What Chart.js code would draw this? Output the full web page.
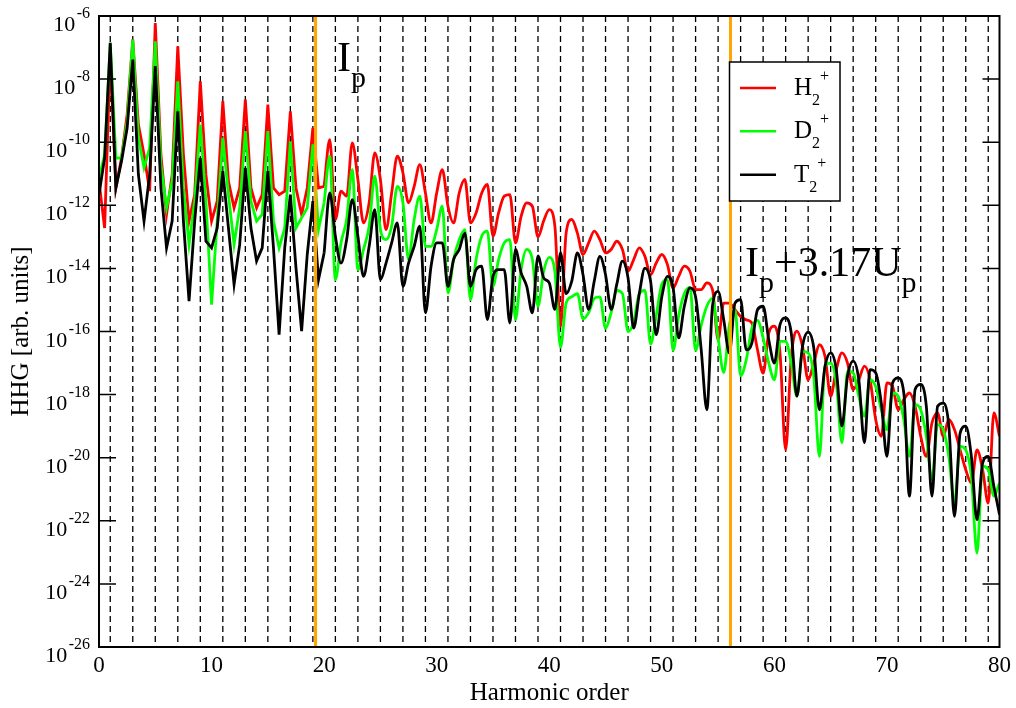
<!DOCTYPE html>
<html>
<head>
<meta charset="utf-8">
<script src="https://cdn.jsdelivr.net/npm/chart.js@4/dist/chart.umd.min.js"></script>
<style>
html,body{margin:0;padding:0;background:#fff;}
#wrap{width:1016px;height:708px;position:relative;}
</style>
</head>
<body>
<div id="wrap"><canvas id="c" width="1016" height="708"></canvas></div>
<script>
// ---------- DATA ----------
const harmonicOrder = [
  0,0.5,1,1.5,2,2.5,3,3.5,4,4.5,
  5,5.5,6,6.5,7,7.5,8,8.5,9,9.5,
  10,10.5,11,11.5,12,12.5,13,13.5,14,14.5,
  15,15.5,16,16.5,17,17.5,18,18.5,19,19.5,
  20,20.5,21,21.5,22,22.5,23,23.5,24,24.5,
  25,25.5,26,26.5,27,27.5,28,28.5,29,29.5,
  30,30.5,31,31.5,32,32.5,33,33.5,34,34.5,
  35,35.5,36,36.5,37,37.5,38,38.5,39,39.5,
  40,40.5,41,41.5,42,42.5,43,43.5,44,44.5,
  45,45.5,46,46.5,47,47.5,48,48.5,49,49.5,
  50,50.5,51,51.5,52,52.5,53,53.5,54,54.5,
  55,55.5,56,56.5,57,57.5,58,58.5,59,59.5,
  60,60.5,61,61.5,62,62.5,63,63.5,64,64.5,
  65,65.5,66,66.5,67,67.5,68,68.5,69,69.5,
  70,70.5,71,71.5,72,72.5,73,73.5,74,74.5,
  75,75.5,76,76.5,77,77.5,78,78.5,79,79.5,
  80
];

// log10 of HHG intensity, H2+
const logH2 = [
  -11.24,-12.72,-7.2,-11.45,-10.5,-9.12,-6.75,-9.44,-10.39,-11.55,
  -6.22,-10.39,-12.29,-11.03,-6.96,-10.39,-12.50,-11.66,-8.07,-11.03,
  -12.50,-11.87,-8.70,-11.24,-12.08,-11.45,-8.65,-11.45,-12.08,-11.66,
  -8.81,-11.45,-11.66,-11.55,-9.02,-11.45,-12.29,-11.45,-9.55,-11.45,
  -11.40,-9.92,-12.45,-11.55,-11.71,-10.02,-11.18,-12.56,-11.92,-10.34,
  -11.18,-12.77,-11.61,-10.44,-10.97,-11.92,-11.40,-10.71,-11.61,-12.56,
  -11.61,-10.87,-12.03,-12.56,-11.61,-11.18,-12.56,-12.24,-11.61,-11.34,
  -12.98,-12.24,-11.71,-11.66,-13.19,-12.35,-11.92,-12.03,-13.0,-12.5,
  -12.14,-12.66,-15.84,-12.88,-12.45,-12.88,-13.56,-13.19,-12.82,-13.09,
  -13.51,-13.40,-13.14,-13.40,-14.09,-13.72,-13.35,-13.62,-14.20,-13.83,
  -13.56,-13.88,-14.62,-14.25,-13.93,-14.09,-14.67,-14.67,-14.46,-14.67,
  -16.26,-15.10,-15.10,-15.31,-15.52,-15.63,-15.73,-16.58,-17.32,-16.05,
  -15.83,-16.68,-19.75,-16.79,-15.99,-16.47,-17.53,-17.00,-16.42,-16.79,
  -18.05,-17.21,-16.68,-17.00,-17.84,-17.53,-17.10,-17.53,-18.79,-19.32,
  -17.63,-17.74,-18.48,-18.16,-17.95,-18.37,-19.32,-19.96,-18.90,-18.58,
  -19.32,-18.79,-19.11,-19.75,-20.38,-20.80,-19.75,-20.38,-21.44,-18.58,
  -19.32
];

// log10 of HHG intensity, D2+
const logD2 = [
  -11.13,-10.39,-6.85,-10.50,-10.50,-9.34,-6.75,-9.86,-10.81,-10.18,
  -6.80,-10.71,-12.08,-11.24,-8.07,-11.45,-13.24,-11.87,-9.44,-11.87,
  -15.15,-12.50,-9.86,-11.66,-13.24,-12.08,-9.65,-11.87,-12.50,-12.29,
  -9.65,-12.50,-13.35,-12.72,-9.97,-12.72,-12.40,-12.08,-10.07,-12.77,
  -11.92,-10.44,-14.36,-13.19,-12.45,-10.87,-14.04,-13.40,-12.66,-11.08,
  -12.77,-13.09,-12.66,-11.40,-11.92,-13.72,-12.45,-11.71,-13.30,-13.30,
  -12.77,-12.03,-14.78,-13.72,-13.09,-12.77,-14.99,-13.72,-12.98,-12.82,
  -14.57,-13.72,-13.19,-13.09,-15.62,-14.04,-13.40,-13.72,-15.20,-14.1,
  -13.65,-14.1,-16.5,-15.1,-14.9,-14.8,-15.6,-15.4,-14.95,-14.9,
  -15.9,-15.4,-14.7,-14.8,-16.0,-15.7,-14.8,-14.7,-16.4,-15.5,
  -14.5,-14.35,-16.6,-15.5,-14.8,-14.6,-16.6,-15.8,-15.2,-14.95,
  -16.2,-17.3,-15.8,-15.3,-17.4,-16.9,-15.9,-15.65,-16.2,-17.0,
  -17.53,-16.31,-16.31,-17.00,-18.05,-16.63,-16.68,-17.42,-19.96,-17.10,
  -17.00,-17.63,-19.53,-17.26,-17.31,-18.05,-18.69,-17.53,-17.74,-18.48,
  -19.11,-17.95,-18.05,-18.79,-19.96,-18.32,-18.48,-19.32,-20.70,-18.95,
  -19.11,-19.96,-21.44,-19.64,-19.75,-20.59,-23.02,-20.27,-20.38,-21.22,
  -20.80
];

// log10 of HHG intensity, T2+
const logT2 = [
  -11.66,-10.50,-6.85,-11.45,-10.60,-9.55,-7.38,-11.03,-12.50,-11.03,
  -7.59,-11.45,-13.35,-12.50,-9.02,-12.50,-15.04,-12.50,-10.50,-13.14,
  -13.35,-12.72,-10.92,-12.72,-14.51,-13.24,-10.81,-12.72,-13.77,-13.35,
  -10.92,-13.35,-16.10,-13.35,-11.66,-13.98,-15.99,-13.56,-11.87,-14.36,
  -13.51,-11.61,-12.98,-13.83,-13.09,-11.82,-12.98,-14.25,-13.30,-12.14,
  -14.36,-13.83,-13.19,-12.56,-14.57,-13.83,-13.30,-12.66,-15.41,-13.93,
  -13.19,-13.19,-14.57,-13.72,-13.40,-12.88,-14.57,-14.04,-13.93,-15.62,
  -14.25,-14.04,-14.04,-15.73,-13.40,-14.14,-14.57,-15.41,-13.6,-14.30,
  -14.46,-15.30,-13.50,-14.80,-14.40,-13.51,-14.20,-15.30,-14.40,-13.62,
  -14.20,-15.30,-14.50,-13.77,-14.30,-15.89,-14.80,-13.99,-14.40,-16.10,
  -14.90,-14.25,-14.60,-16.20,-15.20,-14.62,-14.90,-16.58,-18.48,-15.20,
  -14.73,-15.63,-16.68,-15.10,-14.99,-16.58,-16.37,-15.31,-15.20,-16.26,
  -17.0,-15.78,-15.57,-16.05,-18.05,-16.47,-16.02,-16.52,-18.48,-17.10,
  -16.68,-17.21,-19.00,-17.42,-16.94,-17.53,-19.53,-17.21,-17.31,-18.27,
  -19.96,-17.63,-17.47,-17.95,-21.22,-17.84,-17.68,-18.37,-21.22,-18.37,
  -18.27,-19.00,-21.86,-19.22,-19.00,-19.96,-21.97,-20.17,-19.96,-20.91,
  -21.8
];

const seriesLabels = ['H₂⁺', 'D₂⁺', 'T₂⁺'];
const seriesBase = ['H', 'D', 'T'];
const yTickExponents = [-26, -24, -22, -20, -18, -16, -14, -12, -10, -8, -6];
const xTickValues = [0, 10, 20, 30, 40, 50, 60, 70, 80];
const oddHarmonics = [1,3,5,7,9,11,13,15,17,19,21,23,25,27,29,31,33,35,37,39,
                      41,43,45,47,49,51,53,55,57,59,61,63,65,67,69,71,73,75,77,79];
const cutoffLines = [19.24, 56.1];   // Ip and Ip+3.17Up in harmonic order
const smoothFrom = 20;               // harmonic order where the spectrum becomes arch-like

// ---------- STYLE / LAYOUT ----------
const FONT = "'Liberation Serif', 'Times New Roman', serif";
const COLORS = ['#ff0000', '#00ff00', '#000000'];
const ORANGE = '#ffa500';

const annotations = [
  {x: 21.14, logY: -7.73, parts: [{t: 'I', s: 42, dy: 0}, {t: 'p', s: 30, dy: 16}]},
  {x: 57.4, logY: -14.25, parts: [{t: 'I', s: 42, dy: 0}, {t: 'p', s: 30, dy: 16},
                                  {t: '+3.17U', s: 42, dy: 0}, {t: 'p', s: 30, dy: 16}]}
];

function drawRich(ctx, x, y, parts) {
  let cx = x;
  ctx.textAlign = 'left';
  ctx.textBaseline = 'alphabetic';
  parts.forEach(p => {
    ctx.font = p.s + 'px ' + FONT;
    ctx.fillText(p.t, cx, y + p.dy);
    cx += ctx.measureText(p.t).width;
  });
}

const decorations = {
  id: 'decorations',
  beforeDatasetsDraw(chart) {
    const {ctx, chartArea: a, scales: {x}} = chart;
    ctx.save();
    ctx.strokeStyle = '#000';
    ctx.lineWidth = 1.3;
    ctx.setLineDash([6, 4]);
    oddHarmonics.forEach(h => {
      const px = x.getPixelForValue(h);
      ctx.beginPath();
      ctx.moveTo(px, a.top);
      ctx.lineTo(px, a.bottom);
      ctx.stroke();
    });
    ctx.restore();
  },
  afterDatasetsDraw(chart) {
    const {ctx, chartArea: a, scales: {x, y}} = chart;
    ctx.save();
    ctx.strokeStyle = ORANGE;
    ctx.lineWidth = 3;
    cutoffLines.forEach(h => {
      const px = x.getPixelForValue(h);
      ctx.beginPath(); ctx.moveTo(px, a.top); ctx.lineTo(px, a.bottom); ctx.stroke();
    });
    ctx.strokeStyle = '#000';
    ctx.lineWidth = 2;
    ctx.strokeRect(a.left, a.top, a.right - a.left, a.bottom - a.top);
    ctx.lineWidth = 1.5;
    ctx.fillStyle = '#000';
    yTickExponents.forEach(e => {
      const py = y.getPixelForValue(Math.pow(10, e));
      ctx.beginPath();
      ctx.moveTo(a.left, py); ctx.lineTo(a.left + 17, py);
      ctx.moveTo(a.right - 17, py); ctx.lineTo(a.right, py);
      ctx.stroke();
      const sup = String(e);
      ctx.font = '16px ' + FONT;
      ctx.textAlign = 'left';
      ctx.textBaseline = 'alphabetic';
      const sw = ctx.measureText(sup).width;
      const supX = a.left - 9 - sw;
      ctx.fillText(sup, supX, py + 2);
      ctx.font = '22px ' + FONT;
      const bw = ctx.measureText('10').width;
      ctx.fillText('10', supX - 1.5 - bw, py + 15);
    });
    // legend
    const lg = {x: 729.5, y: 62, w: 110.5, h: 139};
    ctx.fillStyle = '#fff';
    ctx.fillRect(lg.x, lg.y, lg.w, lg.h);
    ctx.strokeStyle = '#000';
    ctx.lineWidth = 1.5;
    ctx.strokeRect(lg.x, lg.y, lg.w, lg.h);
    const rowY = [88, 131.3, 174.7];
    COLORS.forEach((col, i) => {
      ctx.strokeStyle = col;
      ctx.lineWidth = 2.5;
      ctx.beginPath(); ctx.moveTo(740, rowY[i]); ctx.lineTo(776, rowY[i]); ctx.stroke();
      ctx.fillStyle = '#000';
      drawRich(ctx, 794, rowY[i] + 7, [
        {t: seriesBase[i], s: 25, dy: 0}, {t: '2', s: 16, dy: 10}, {t: '+', s: 16, dy: -14}
      ]);
    });
    ctx.fillStyle = '#000';
    annotations.forEach(an => {
      drawRich(ctx, x.getPixelForValue(an.x), y.getPixelForValue(Math.pow(10, an.logY)), an.parts);
    });
    ctx.restore();
  }
};

// each spectrum: spiky low-order part drawn straight, arch-like plateau/cutoff part drawn smooth
function makeSets(i, logs, order) {
  const pts = harmonicOrder.map((h, k) => ({x: h, y: Math.pow(10, logs[k])}));
  const base = {
    label: seriesLabels[i], borderColor: COLORS[i], backgroundColor: COLORS[i],
    borderWidth: 2.8, pointRadius: 0, fill: false, order: order
  };
  return [
    Object.assign({}, base, {data: pts.filter(p => p.x <= smoothFrom), tension: 0}),
    Object.assign({}, base, {data: pts.filter(p => p.x >= smoothFrom), cubicInterpolationMode: 'monotone'})
  ];
}

new Chart(document.getElementById('c'), {
  type: 'line',
  data: {
    datasets: [...makeSets(0, logH2, 3), ...makeSets(1, logD2, 2), ...makeSets(2, logT2, 1)]
  },
  options: {
    responsive: false,
    animation: false,
    layout: {padding: {left: 0, right: 16, top: 16, bottom: 0}},
    plugins: {legend: {display: false}, tooltip: {enabled: false}},
    scales: {
      x: {
        type: 'linear', min: 0, max: 80,
        afterBuildTicks: s => { s.ticks = xTickValues.map(v => ({value: v})); },
        ticks: {color: '#000', font: {family: FONT, size: 23}, padding: 5, maxRotation: 0, autoSkip: false},
        grid: {display: false, drawTicks: false},
        border: {display: false},
        title: {display: true, text: 'Harmonic order', color: '#000',
                font: {family: FONT, size: 25}, padding: {top: 0, bottom: 0}},
        afterFit: s => { s.height = 61; }
      },
      y: {
        type: 'logarithmic', min: 1e-26, max: 1e-6,
        afterBuildTicks: s => { s.ticks = yTickExponents.map(e => ({value: Math.pow(10, e)})); },
        ticks: {display: false},
        grid: {display: false, drawTicks: false},
        border: {display: false},
        title: {display: true, text: 'HHG [arb. units]', color: '#000',
                font: {family: FONT, size: 25}, padding: {top: 6, bottom: 0}},
        afterFit: s => { s.width = 99; }
      }
    }
  },
  plugins: [decorations]
});
</script>
</body>
</html>
